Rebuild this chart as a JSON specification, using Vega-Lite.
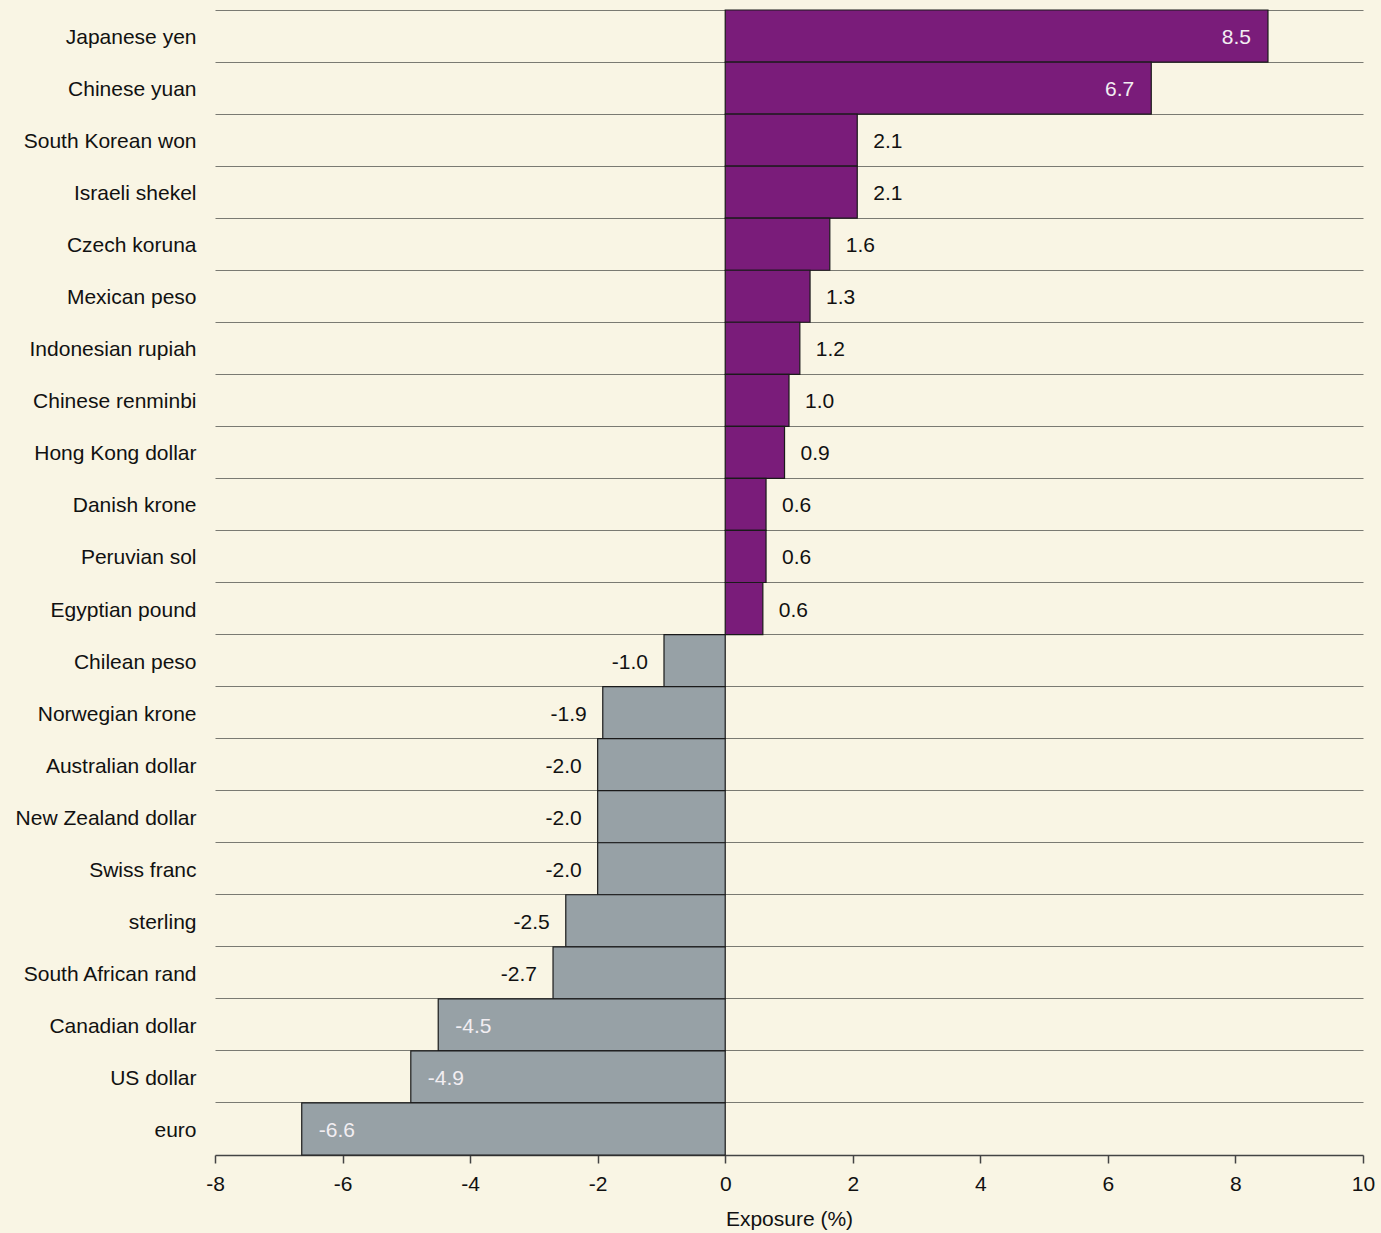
{
  "$schema": "https://vega.github.io/schema/vega-lite/v6.json",
  "width": 1148,
  "height": 1145,
  "autosize": {"type": "none"},
  "padding": {"left": 215, "top": 10, "right": 18, "bottom": 78},
  "background": "#f9f5e4",
  "config": {
    "view": {"stroke": null},
    "font": "Liberation Sans"
  },
  "data": {
    "values": [
      {"currency": "Japanese yen", "value": 8.51, "label": "8.5"},
      {"currency": "Chinese yuan", "value": 6.68, "label": "6.7"},
      {"currency": "South Korean won", "value": 2.07, "label": "2.1"},
      {"currency": "Israeli shekel", "value": 2.07, "label": "2.1"},
      {"currency": "Czech koruna", "value": 1.64, "label": "1.6"},
      {"currency": "Mexican peso", "value": 1.33, "label": "1.3"},
      {"currency": "Indonesian rupiah", "value": 1.17, "label": "1.2"},
      {"currency": "Chinese renminbi", "value": 1.0, "label": "1.0"},
      {"currency": "Hong Kong dollar", "value": 0.93, "label": "0.9"},
      {"currency": "Danish krone", "value": 0.64, "label": "0.6"},
      {"currency": "Peruvian sol", "value": 0.64, "label": "0.6"},
      {"currency": "Egyptian pound", "value": 0.59, "label": "0.6"},
      {"currency": "Chilean peso", "value": -0.96, "label": "-1.0"},
      {"currency": "Norwegian krone", "value": -1.92, "label": "-1.9"},
      {"currency": "Australian dollar", "value": -2.0, "label": "-2.0"},
      {"currency": "New Zealand dollar", "value": -2.0, "label": "-2.0"},
      {"currency": "Swiss franc", "value": -2.0, "label": "-2.0"},
      {"currency": "sterling", "value": -2.5, "label": "-2.5"},
      {"currency": "South African rand", "value": -2.7, "label": "-2.7"},
      {"currency": "Canadian dollar", "value": -4.5, "label": "-4.5"},
      {"currency": "US dollar", "value": -4.93, "label": "-4.9"},
      {"currency": "euro", "value": -6.64, "label": "-6.6"}
    ]
  },
  "encoding": {
    "y": {
      "field": "currency",
      "type": "nominal",
      "sort": null,
      "scale": {"paddingInner": 0, "paddingOuter": 0},
      "axis": {
        "title": null,
        "domain": false,
        "ticks": false,
        "labelPadding": 19,
        "labelOffset": 2,
        "labelLimit": 400,
        "labelFontSize": 21,
        "labelColor": "#111111",
        "labelFont": "Liberation Sans",
        "grid": true,
        "bandPosition": 0,
        "gridColor": "#7a7a72",
        "gridWidth": 1.2
      }
    },
    "x": {
      "field": "value",
      "type": "quantitative",
      "scale": {"domain": [-8, 10], "nice": false},
      "axis": {
        "title": "Exposure (%)",
        "values": [-8, -6, -4, -2, 0, 2, 4, 6, 8, 10],
        "labelExpr": "replace(datum.label, '−', '-')",
        "labelFlush": false,
        "labelBound": false,
        "grid": false,
        "domainColor": "#444444",
        "domainWidth": 1.5,
        "tickColor": "#444444",
        "tickWidth": 1.5,
        "tickSize": 8,
        "labelFontSize": 21,
        "labelPadding": 10,
        "labelColor": "#111111",
        "titleFontSize": 21,
        "titleFontWeight": "normal",
        "titleColor": "#111111",
        "titlePadding": 14
      }
    }
  },
  "layer": [
    {
      "mark": {"type": "bar", "stroke": "#1a1a1a", "strokeWidth": 1.2},
      "encoding": {
        "color": {
          "condition": {"test": "datum.value >= 0", "value": "#7a1c7a"},
          "value": "#97a1a6"
        }
      }
    },
    {
      "transform": [{"filter": "datum.value >= 4"}],
      "mark": {"type": "text", "align": "right", "dx": -17, "dy": 2, "fontSize": 21, "color": "#f2eef2"},
      "encoding": {"text": {"field": "label"}}
    },
    {
      "transform": [{"filter": "datum.value >= 0 && datum.value < 4"}],
      "mark": {"type": "text", "align": "left", "dx": 16, "dy": 2, "fontSize": 21, "color": "#111111"},
      "encoding": {"text": {"field": "label"}}
    },
    {
      "transform": [{"filter": "datum.value < 0 && datum.value > -4"}],
      "mark": {"type": "text", "align": "right", "dx": -16, "dy": 2, "fontSize": 21, "color": "#111111"},
      "encoding": {"text": {"field": "label"}}
    },
    {
      "transform": [{"filter": "datum.value <= -4"}],
      "mark": {"type": "text", "align": "left", "dx": 17, "dy": 2, "fontSize": 21, "color": "#f2eef2"},
      "encoding": {"text": {"field": "label"}}
    }
  ]
}
